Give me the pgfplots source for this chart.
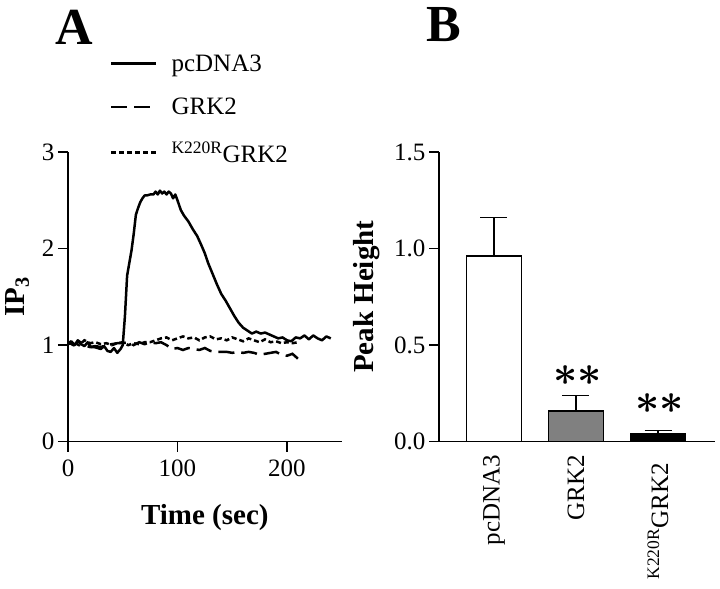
\documentclass[border=0pt]{standalone}
\usepackage{pgfplots}
\pgfplotsset{compat=1.18}
\usepackage{fontspec}
\setmainfont{Liberation Serif}

\pgfplotsset{
  myaxis/.style={
    scale only axis,
    axis lines=left,
    axis line style={line width=1.5bp, -},
    tick align=outside,
    major tick length=10bp,
    tick style={line width=1.5bp, black},
    tick label style={font=\fontsize{25bp}{30bp}\selectfont},
    label style={font=\fontsize{29bp}{34bp}\selectfont\bfseries},
    /pgf/number format/assume math mode=true,
  }
}

\begin{document}
\begin{tikzpicture}
\useasboundingbox (0bp,0bp) rectangle (720bp,589bp);

\node[font=\fontsize{52bp}{52bp}\selectfont\bfseries] at (74bp,562bp) {A};
\node[font=\fontsize{52bp}{52bp}\selectfont\bfseries] at (444bp,564bp) {B};

% ---------------- Panel A ----------------
\begin{axis}[myaxis,
  at={(68bp,147.3bp)}, anchor=south west,
  width=273.7bp, height=289.7bp,
  xmin=0, xmax=250, ymin=0, ymax=3,
  xtick={0,100,200}, ytick={0,1,2,3},
  xticklabel style={yshift=-5bp},
  xlabel={Time (sec)}, ylabel={IP\textsubscript{3}},
  xlabel style={at={(axis description cs:0.5,-0.263)}, anchor=center},
  ylabel style={at={(axis description cs:-0.186,0.5)}, anchor=center},
  legend style={at={(axis description cs:0.153,1.344)}, anchor=north west,
    draw=none, fill=none, inner sep=0pt,
    font=\fontsize{25bp}{30bp}\selectfont, row sep=21.5bp},
  legend cell align=left,
  legend image code/.code={\draw[#1] (0bp,0bp) -- (45bp,0bp); \path (57bp,0bp);},
]
\addplot[black, line width=2.5bp, line join=round] table {
0 1.02
3 1.04
6 1.00
9 1.05
12 1.01
15 0.99
18 1.03
21 0.98
24 0.98
27 0.97
30 0.96
33 0.99
36 0.94
39 0.93
42 0.97
45 0.92
48 0.96
50 1.00
52 1.30
54 1.72
56 1.85
58 1.98
60 2.15
62 2.35
64 2.42
66 2.48
68 2.52
70 2.55
72 2.55
75 2.56
78 2.56
80 2.59
82 2.56
84 2.60
86 2.57
88 2.59
90 2.56
92 2.59
94 2.57
96 2.52
98 2.56
100 2.50
103 2.40
106 2.34
110 2.28
114 2.20
118 2.13
122 2.03
125 1.95
128 1.85
132 1.74
136 1.63
140 1.53
144 1.46
148 1.38
152 1.30
156 1.23
160 1.18
164 1.15
168 1.12
172 1.14
176 1.12
180 1.13
184 1.11
188 1.09
192 1.07
196 1.08
200 1.05
204 1.04
208 1.08
212 1.07
216 1.10
220 1.06
224 1.10
228 1.07
232 1.05
236 1.09
240 1.07
};
\addlegendentry{pcDNA3}
\addplot[black, line width=2.5bp, dash pattern=on 16bp off 7bp] table {
0 1.03
5 1.00
10 1.04
15 1.00
20 0.98
25 0.99
30 0.98
35 1.00
40 1.01
45 1.02
50 1.02
55 1.03
60 1.00
65 1.03
70 1.01
75 1.03
80 1.02
85 1.03
90 1.00
95 0.96
100 0.97
105 0.95
110 0.97
115 0.96
120 0.95
125 0.97
130 0.94
135 0.93
140 0.93
145 0.93
150 0.92
155 0.93
160 0.92
165 0.93
170 0.92
175 0.90
180 0.91
185 0.92
190 0.93
195 0.90
200 0.89
205 0.91
210 0.86
};
\addlegendentry{GRK2}
\addplot[black, line width=2.5bp, dash pattern=on 5bp off 3bp] table {
0 1.01
5 1.03
10 1.00
15 1.05
20 1.02
25 1.03
30 1.01
35 1.02
40 1.00
45 1.02
50 1.03
55 1.00
60 1.02
65 1.01
70 1.03
75 1.03
80 1.05
85 1.07
90 1.08
95 1.05
100 1.07
105 1.09
110 1.07
115 1.08
120 1.05
125 1.08
130 1.09
135 1.06
140 1.07
145 1.05
150 1.08
155 1.06
160 1.04
165 1.07
170 1.05
175 1.03
180 1.06
185 1.03
190 1.04
195 1.02
200 1.03
205 1.02
210 1.03
};
\addlegendentry{\textsuperscript{K220R}GRK2}
\end{axis}

% ---------------- Panel B ----------------
\begin{axis}[myaxis,
  at={(439bp,147.3bp)}, anchor=south west,
  width=276bp, height=289.7bp,
  xmin=-0.67, xmax=2.695, ymin=0, ymax=1.5,
  ytick={0,0.5,1,1.5},
  yticklabel style={/pgf/number format/fixed, /pgf/number format/fixed zerofill, /pgf/number format/precision=1},
  xtick={0,1,2},
  xticklabels={pcDNA3, GRK2, {\textsuperscript{K220R}GRK2\kern8bp}},
  xtick style={draw=none},
  xticklabel style={rotate=90, anchor=east},
  ylabel={Peak Height},
  ylabel style={at={(axis description cs:-0.262,0.5)}, anchor=center},
]
\addplot[ybar, bar shift=0pt, bar width=55bp, fill=black!50, draw=black, line width=1.5bp,
  error bars/y dir=plus, error bars/y explicit,
  error bars/error bar style={line width=1.5bp, black},
  error bars/error mark options={rotate=90, mark size=13.5bp, line width=1.5bp, black}]
  coordinates {(1,0.159) +- (0,0.079)};
\addplot[ybar, bar shift=0pt, bar width=55bp, fill=white, draw=black, line width=1.5bp,
  error bars/y dir=plus, error bars/y explicit,
  error bars/error bar style={line width=1.5bp, black},
  error bars/error mark options={rotate=90, mark size=13.5bp, line width=1.5bp, black}]
  coordinates {(0,0.962) +- (0,0.200)};
\addplot[ybar, bar shift=0pt, bar width=55bp, fill=black, draw=black, line width=1.5bp,
  error bars/y dir=plus, error bars/y explicit,
  error bars/error bar style={line width=1.5bp, black},
  error bars/error mark options={rotate=90, mark size=13.5bp, line width=1.5bp, black}]
  coordinates {(2,0.041) +- (0,0.018)};
\node[scale=1.7, font=\fontsize{24.88pt}{26pt}\selectfont] at (axis cs:1.02,0.345) {{\boldmath$\ast\ast$}};
\node[scale=1.7, font=\fontsize{24.88pt}{26pt}\selectfont] at (axis cs:2.02,0.195) {{\boldmath$\ast\ast$}};
\end{axis}
\end{tikzpicture}
\end{document}
